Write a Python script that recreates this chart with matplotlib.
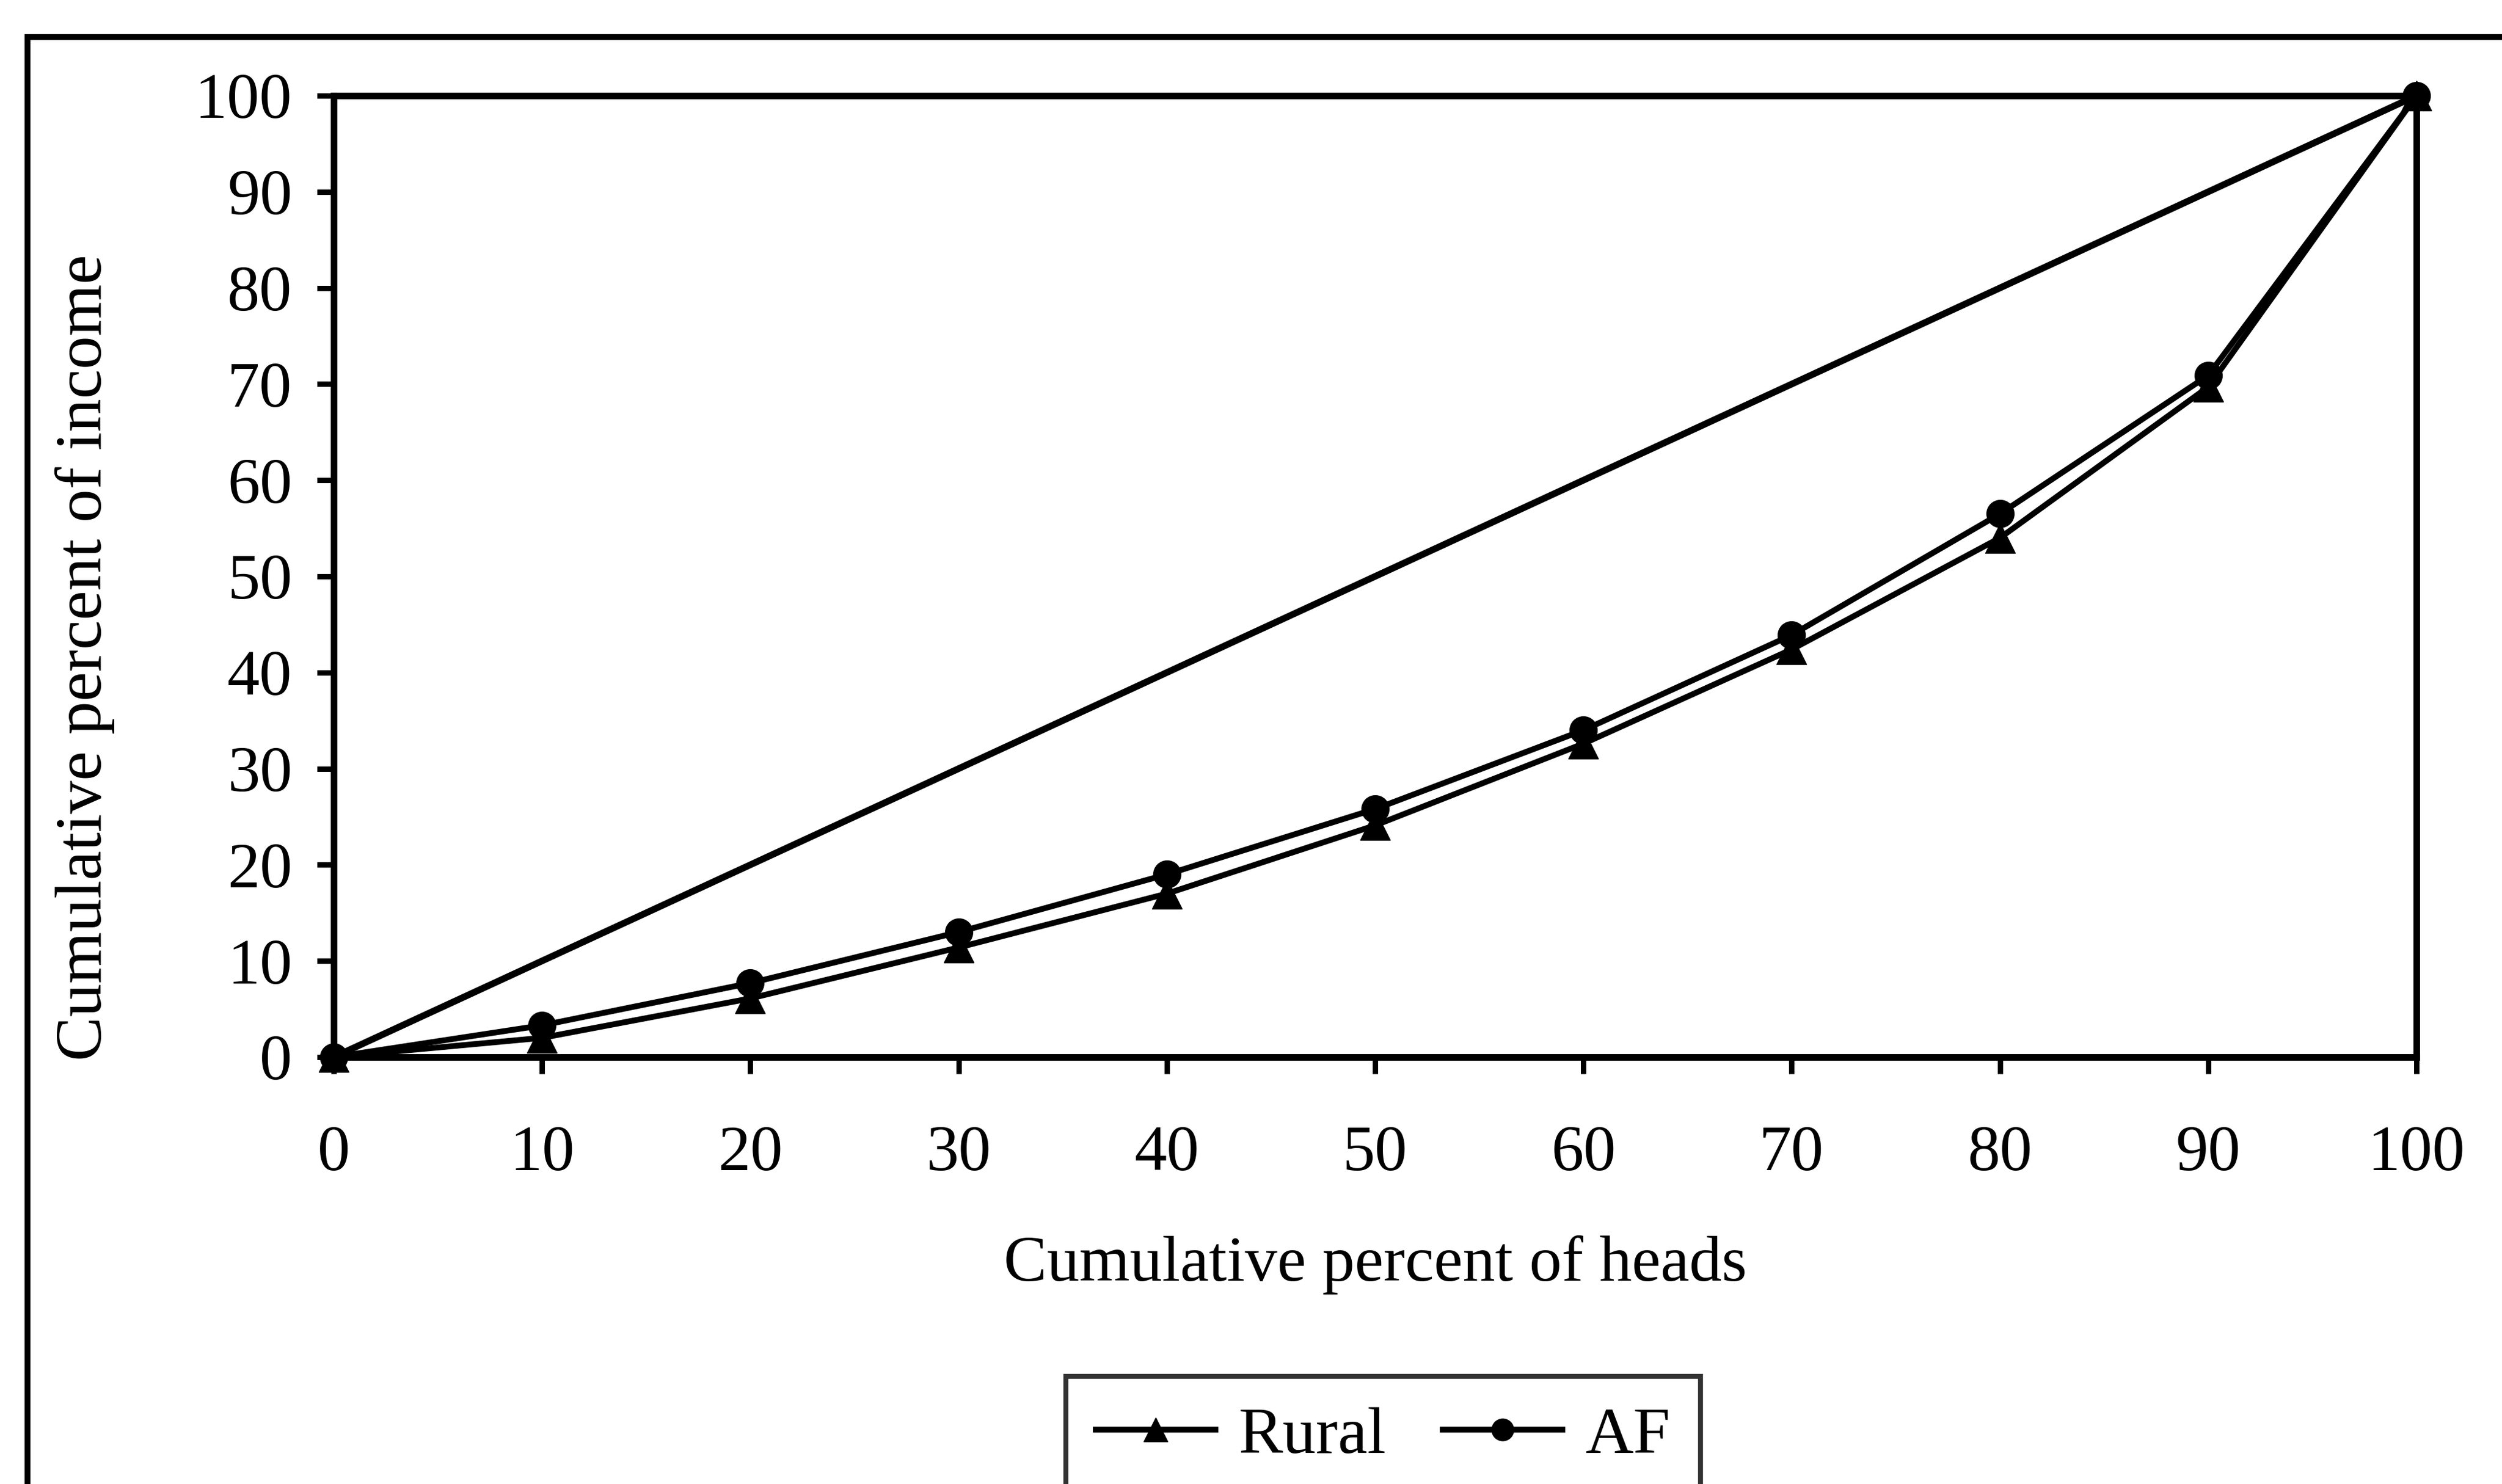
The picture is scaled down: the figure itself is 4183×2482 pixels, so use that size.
import matplotlib
matplotlib.use("Agg")
import matplotlib.pyplot as plt
from matplotlib.patches import Rectangle

plt.rcParams['font.family'] = ['Liberation Serif', 'DejaVu Serif']

# Cumulative shares (percent)
heads_pct = [0, 10, 20, 30, 40, 50, 60, 70, 80, 90, 100]
equality = [0, 10, 20, 30, 40, 50, 60, 70, 80, 90, 100]
rural = [0, 2.0, 6.1, 11.4, 17.0, 24.1, 32.6, 42.4, 54.0, 69.7, 100]
af = [0, 3.3, 7.7, 13.0, 19.0, 25.8, 34.0, 43.9, 56.5, 70.9, 100]
series_labels = ["Rural", "AF"]
x_ticks = [0, 10, 20, 30, 40, 50, 60, 70, 80, 90, 100]
y_ticks = [0, 10, 20, 30, 40, 50, 60, 70, 80, 90, 100]

W, H, DPI = 4183, 2482, 100
fig = plt.figure(figsize=(W / DPI, H / DPI), dpi=DPI)
fig.patch.set_facecolor("white")

# Outer frame around the whole chart area (runs off the right and bottom edges)
frame = Rectangle((46 / W, -0.2), 1.5, 0.2 + 1 - 62 / H, transform=fig.transFigure,
                  fill=False, edgecolor="black", linewidth=7, clip_on=False)
fig.patches.append(frame)

left, right = 558 / W, 4040 / W
bottom, top = 1 - 1768 / H, 1 - 160 / H
ax = fig.add_axes([left, bottom, right - left, top - bottom])

ax.plot(heads_pct, equality, color="black", linewidth=8, solid_capstyle="round",
        clip_on=False, zorder=2)
l_rural, = ax.plot(heads_pct, rural, color="black", linewidth=7, marker="^",
                   markersize=36, clip_on=False, zorder=3, label=series_labels[0])
l_af, = ax.plot(heads_pct, af, color="black", linewidth=7, marker="o",
                markersize=33, clip_on=False, zorder=4, label=series_labels[1])

ax.set_xlim(0, 100)
ax.set_ylim(0, 100)
ax.set_xticks(x_ticks)
ax.set_yticks(y_ticks)
ax.set_xticklabels([str(v) for v in x_ticks])
ax.set_yticklabels([str(v) for v in y_ticks])

for s in ax.spines.values():
    s.set_linewidth(8)
    s.set_color("black")

ax.tick_params(axis="both", direction="out", length=20, width=6.5, colors="black",
               labelsize=78)
ax.tick_params(axis="x", pad=62)
ax.tick_params(axis="y", pad=30)

ax.set_xlabel("Cumulative percent of heads", fontsize=78)
ax.xaxis.set_label_coords(0.5, -0.2160)
ax.xaxis.label.set_va("center")
ax.set_ylabel("Cumulative percent of income", fontsize=80)
ax.yaxis.set_label_coords(-0.1195, 0.4154)
ax.yaxis.label.set_va("center")
ax.yaxis.label.set_ha("center")

leg = fig.legend(handles=[l_rural, l_af], loc="upper left",
                 bbox_to_anchor=(1782 / W, 1 - 2302 / H), ncol=2, fontsize=80,
                 frameon=True, fancybox=False, shadow=False, borderpad=0.45,
                 handlelength=1.8, handletextpad=0.35, columnspacing=0.85,
                 borderaxespad=0.0, markerscale=0.8)
leg.get_frame().set_edgecolor("black")
leg.get_frame().set_linewidth(6)

fig.savefig("out.png", dpi=DPI, facecolor="white")
